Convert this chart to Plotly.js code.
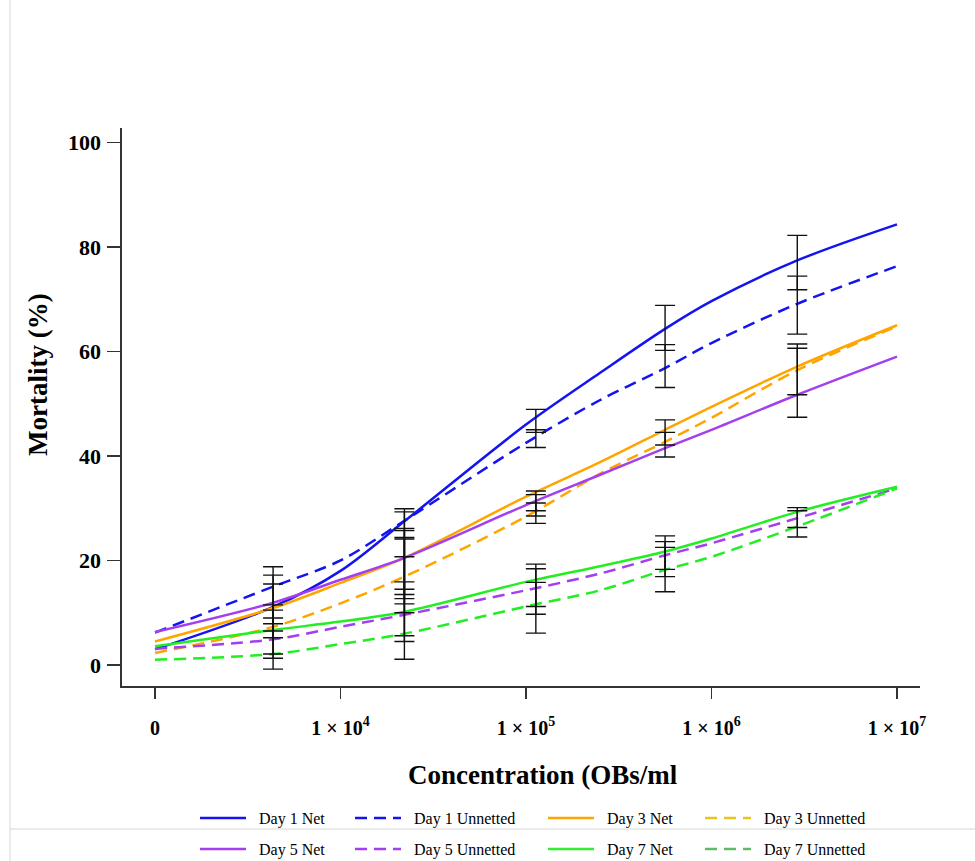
<!DOCTYPE html>
<html><head><meta charset="utf-8">
<script src="https://cdn.plot.ly/plotly-3.0.1.min.js"></script>
<style>html,body{margin:0;padding:0;background:#fff}#chart{width:975px;height:861px}</style>
</head><body><div id="chart"></div>
<script>
// ---- data ----
const concentration = [1e3, 4330, 1e4, 22100, 1e5, 2.51e5, 5.62e5, 1e6, 2.9e6, 1e7];
const day1Net      = [3.0, 11.1, 18.0, 27.5, 46.0, 55.9, 64.3, 69.6, 77.4, 84.3];
const day1Unnetted = [6.2, 15.0, 20.0, 27.6, 42.5, 50.7, 56.8, 61.6, 69.1, 76.3];
const day3Net      = [4.5, 10.9, 15.7, 20.5, 32.2, 38.8, 45.0, 49.4, 57.1, 65.0];
const day3Unnetted = [2.3, 7.3, 11.8, 16.9, 28.4, 36.6, 42.7, 47.3, 56.4, 64.8];
const day5Net      = [6.3, 11.9, 16.3, 20.5, 30.6, 36.4, 41.5, 45.0, 51.7, 59.0];
const day5Unnetted = [3.1, 4.9, 7.3, 9.6, 14.3, 17.5, 21.0, 23.3, 28.1, 33.8];
const day7Net      = [3.6, 6.7, 8.3, 10.2, 15.9, 18.9, 21.7, 24.2, 29.3, 34.1];
const day7Unnetted = [1.0, 2.1, 4.0, 6.0, 11.2, 14.3, 18.2, 20.7, 26.5, 33.8];

// error bars: x position, lower and upper ends
const errX    = [4330,4330,4330,4330,4330,4330,
                 22100,22100,22100,22100,22100,22100,22100,22100,
                 113000,113000,113000,113000,113000,113000,113000,113000,
                 562000,562000,562000,562000,562000,562000,562000,
                 2.9e6,2.9e6,2.9e6,2.9e6,2.9e6,2.9e6];
const errLow  = [-0.8,1.3,2.1,5.2,6.5,7.9,
                 1.1,4.5,5.6,10.0,11.7,12.7,13.5,14.5,
                 41.6,44.5,27.1,28.5,29.5,6.1,9.7,11.2,
                 53.1,60.2,39.8,42.1,14.0,16.9,18.3,
                 63.3,71.8,47.4,51.7,24.5,26.3];
const errHigh = [18.8,17.2,15.5,11.5,10.5,9.0,
                 29.9,29.3,26.1,25.7,24.4,24.1,20.7,15.9,
                 48.9,45.0,33.3,32.6,31.0,19.3,18.4,15.8,
                 68.8,61.3,46.9,44.5,24.7,23.6,22.5,
                 82.2,74.4,61.4,60.6,30.1,29.5];

const xTickVals = [1e3, 1e4, 1e5, 1e6, 1e7];
const xTickText = ['0', '1 × 10<sup>4</sup>', '1 × 10<sup>5</sup>', '1 × 10<sup>6</sup>', '1 × 10<sup>7</sup>'];
const yTickVals = [0, 20, 40, 60, 80, 100];

const seriesNames = ['Day 1 Net','Day 1 Unnetted','Day 3 Net','Day 3 Unnetted','Day 5 Net','Day 5 Unnetted','Day 7 Net','Day 7 Unnetted'];
const seriesData = [day1Net, day1Unnetted, day3Net, day3Unnetted, day5Net, day5Unnetted, day7Net, day7Unnetted];

// ---- styles ----
const lineColors   = ['#1414f0','#1414f0','#ffa500','#ffa500','#a23ff0','#a23ff0','#22ee22','#22ee22'];
const legendColors = ['#1414f0','#1414f0','#ffa500','#e8c420','#a23ff0','#a23ff0','#33ee33','#60bb66'];
const dashes = ['solid','12px,7px','solid','12px,7px','solid','12px,7px','solid','12px,7px'];

const W = 975, H = 861;
const L = 122, R = 920, T = 128, B = 686;
const px2x = p => (p - L) / (R - L);
const py2y = p => (B - p) / (B - T);

const traces = [];
seriesData.forEach((ys, i) => {
  traces.push({
    x: concentration, y: ys, type: 'scatter', mode: 'lines',
    line: {color: lineColors[i], width: 2.5, dash: dashes[i], shape: 'spline', smoothing: 0.9},
    showlegend: false, hoverinfo: 'skip'
  });
});
traces.push({
  x: errX,
  y: errLow.map((lo, i) => (lo + errHigh[i]) / 2),
  type: 'scatter', mode: 'markers',
  marker: {size: 1, color: 'rgba(0,0,0,0)'},
  error_y: {type: 'data', symmetric: true, array: errLow.map((lo, i) => (errHigh[i] - lo) / 2),
            color: '#111', thickness: 1.4, width: 10},
  showlegend: false, hoverinfo: 'skip'
});

// legend entries (4 columns x 2 rows)
const colPx = [200, 355, 548, 705];
const rowPx = [818, 849];
const legends = {};
seriesNames.forEach((name, k) => {
  const key = k === 0 ? 'legend' : 'legend' + (k + 1);
  const col = k % 4, row = Math.floor(k / 4);
  traces.push({
    x: [null], y: [null], type: 'scatter', mode: 'lines', name: '\u00a0\u00a0' + name,
    line: {color: legendColors[k], width: 2.5, dash: dashes[k]},
    legend: key, showlegend: true
  });
  legends[key] = {
    xref: 'paper', yref: 'container',
    x: px2x(colPx[col] - 5), y: 1 - rowPx[row] / H, xanchor: 'left', yanchor: 'middle',
    orientation: 'v', bgcolor: 'rgba(0,0,0,0)', borderwidth: 0, itemwidth: 46,
    font: {family: 'Liberation Serif', size: 16, color: '#000'}, itemclick: false, itemdoubleclick: false
  };
});

const layout = Object.assign({
  width: W, height: H,
  margin: {l: L, r: W - R, t: T, b: H - B},
  paper_bgcolor: '#fff', plot_bgcolor: '#fff',
  font: {family: 'Liberation Serif', color: '#000'},
  hovermode: false,
  xaxis: {
    type: 'log', range: [Math.log10(1e3) - 0.178, Math.log10(1e7) + 0.124],
    tickvals: xTickVals, ticktext: xTickText,
    showgrid: false, zeroline: false, showline: true, linecolor: '#333', linewidth: 1.6,
    ticks: 'outside', ticklen: 11, tickwidth: 1.6, tickcolor: '#333',
    ticklabelstandoff: 12,
    tickfont: {family: 'Liberation Serif', size: 20, weight: 700, color: '#000'}
  },
  yaxis: {
    range: [-4.02, 102.74], tickvals: yTickVals,
    showgrid: false, zeroline: false, showline: true, linecolor: '#333', linewidth: 1.6,
    ticks: 'outside', ticklen: 13, tickwidth: 1.6, tickcolor: '#333',
    ticklabelstandoff: 2,
    tickfont: {family: 'Liberation Serif', size: 22, weight: 700, color: '#000'}
  },
  annotations: [
    {text: 'Mortality (%)', xref: 'paper', yref: 'paper', x: px2x(38), y: py2y(375),
     textangle: -90, showarrow: false, xanchor: 'center', yanchor: 'middle',
     font: {family: 'Liberation Serif', size: 27, weight: 700, color: '#000'}},
    {text: 'Concentration (OBs/ml', xref: 'paper', yref: 'paper', x: px2x(543), y: py2y(775),
     showarrow: false, xanchor: 'center', yanchor: 'middle',
     font: {family: 'Liberation Serif', size: 27, weight: 700, color: '#000'}}
  ],
  shapes: [
    {type: 'line', xref: 'paper', yref: 'paper', x0: px2x(10), x1: px2x(10), y0: py2y(0), y1: py2y(861),
     line: {color: '#d6d6d6', width: 1}},
    {type: 'line', xref: 'paper', yref: 'paper', x0: px2x(10), x1: px2x(975), y0: py2y(829), y1: py2y(829),
     line: {color: '#d6d6d6', width: 1}}
  ]
}, legends);

Plotly.newPlot('chart', traces, layout, {displayModeBar: false, staticPlot: true});
</script></body></html>
